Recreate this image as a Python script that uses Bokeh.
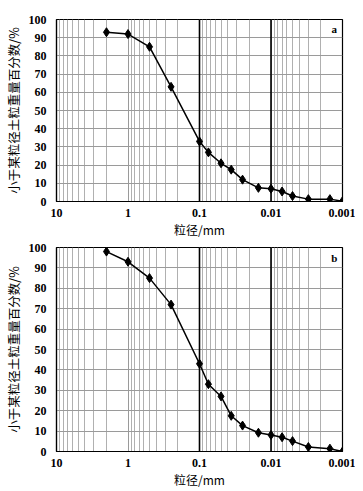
from bokeh.plotting import figure
from bokeh.models import Range1d, FixedTicker, Span, Label, CustomJSTickFormatter
from bokeh.layouts import column
from bokeh.embed import file_html
from bokeh.resources import INLINE

# grain size (mm) and percentage finer than that size
sizes = [2, 1, 0.5, 0.25, 0.1, 0.075, 0.05, 0.036, 0.025, 0.015, 0.01, 0.007, 0.005, 0.003, 0.0015, 0.001]
pct_a = [93, 92, 85, 63, 33, 27, 21, 17.5, 12, 7.5, 7, 5.5, 3, 1.3, 1.3, 0.2]
pct_b = [98, 93, 85, 72, 43, 33, 27, 17.5, 12.7, 9.2, 8.1, 7, 5.1, 2.2, 1.4, 0]
x_ticks = [10, 1, 0.1, 0.01, 0.001]
y_ticks = [0, 10, 20, 30, 40, 50, 60, 70, 80, 90, 100]
minor_ticks = [m * 10.0 ** e for e in range(-3, 1) for m in range(2, 10)]
heavy_lines = [0.1, 0.01]
x_label = "粒径/mm"
y_label = "小于某粒径土粒重量百分数/%"

SERIF = "Liberation Serif"
CJK = "Noto Sans CJK SC"


def panel(pct, letter, height, top, bottom):
    p = figure(width=355, height=height, x_axis_type="log",
               x_range=Range1d(10, 0.001), y_range=Range1d(0, 100),
               output_backend="svg", toolbar_location=None,
               min_border_left=49, min_border_right=13,
               min_border_top=top, min_border_bottom=bottom)
    p.outline_line_color = "black"
    p.outline_line_width = 1.2
    p.background_fill_color = "white"
    p.border_fill_color = "white"

    p.xaxis.ticker = FixedTicker(ticks=x_ticks, minor_ticks=minor_ticks)
    p.xaxis.formatter = CustomJSTickFormatter(code="return Number(tick.toPrecision(3)).toString();")
    p.yaxis.ticker = FixedTicker(ticks=y_ticks)
    for ax in (p.xaxis, p.yaxis):
        ax.axis_line_color = "black"
        ax.axis_line_width = 1.2
        ax.major_tick_line_color = None
        ax.minor_tick_line_color = None
        ax.major_label_text_font = SERIF
        ax.major_label_text_font_style = "bold"
        ax.major_label_text_font_size = "12px"
        ax.major_label_text_color = "black"
        ax.axis_label_text_font = CJK
        ax.axis_label_text_font_style = "normal"
        ax.axis_label_text_color = "black"
    p.xaxis.major_label_standoff = 1
    p.xaxis.axis_label_standoff = 1
    p.xaxis.axis_label_text_font_size = "12px"
    p.yaxis.major_label_standoff = 4
    p.yaxis.axis_label_standoff = 3
    p.yaxis.axis_label_text_font_size = "12.5px"
    p.xaxis.axis_label = x_label
    p.yaxis.axis_label = y_label

    p.xgrid.grid_line_color = "#9a9a9a"
    p.xgrid.grid_line_width = 1
    p.xgrid.minor_grid_line_color = "#b0b0b0"
    p.xgrid.minor_grid_line_width = 1
    p.ygrid.grid_line_color = "#9a9a9a"
    p.ygrid.grid_line_width = 1

    for v in heavy_lines:
        p.add_layout(Span(location=v, dimension="height", line_color="black", line_width=1.6))

    p.line(sizes, pct, line_color="black", line_width=1.5)
    p.scatter(sizes, pct, marker="diamond", size=9, fill_color="black", line_color="black")

    p.add_layout(Label(x=0.0013, y=95, text=letter, text_font=SERIF, text_font_style="bold",
                       text_font_size="11px", text_align="center", text_baseline="middle",
                       text_color="black"))
    return p


pa = panel(pct_a, "a", 240, 19, 35)
pb = panel(pct_b, "b", 250, 7, 33)
layout = column(pa, pb, spacing=0)

open("out.html", "w").write(file_html(layout, INLINE))
